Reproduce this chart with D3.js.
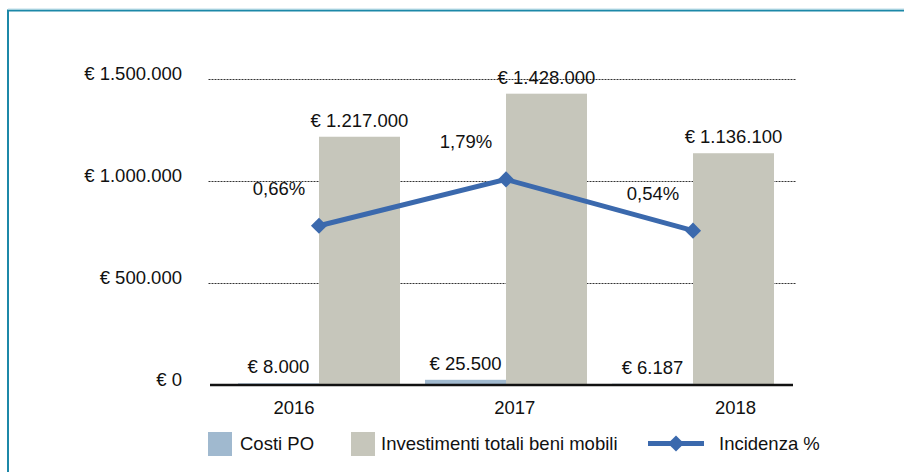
<!DOCTYPE html>
<html>
<head>
<meta charset="utf-8">
<script src="https://cdn.jsdelivr.net/npm/d3@7"></script>
<style>
  html, body { margin: 0; padding: 0; background: #fff; }
  svg { display: block; font-family: "Liberation Sans", Arial, Helvetica, sans-serif; }
</style>
</head>
<body>
<svg id="chart" width="904" height="472"></svg>
<script>
// Anni e serie
const years = ["2016", "2017", "2018"];
const costiPO = [8000, 25500, 6187];
const investimenti = [1217000, 1428000, 1136100];
const incidenza = [0.66, 1.79, 0.54];
const yTicks = [0, 500000, 1000000, 1500000];
const seriesNames = ["Costi PO", "Investimenti totali beni mobili", "Incidenza %"];

const colors = { costi: "#a0b9cf", invest: "#c6c6bb", line: "#3b69ad", frame: "#1c88a8", text: "#111" };
const fontSize = 18.5;

const svg = d3.select("#chart");

// cornice
svg.append("path")
  .attr("d", "M8,472 V10.5 H904")
  .attr("fill", "none")
  .attr("stroke", colors.frame)
  .attr("stroke-width", 2);
svg.append("line").attr("x1", 8).attr("x2", 904).attr("y1", 9).attr("y2", 9)
  .attr("stroke", "#bcdde8").attr("stroke-width", 1);

// scale
const x = d3.scaleBand().domain(years).range([225.5, 786.5])
  .paddingInner(0.1337).paddingOuter(0.0668);
const xSub = d3.scaleBand().domain(["costi", "invest"]).range([0, x.bandwidth()]).padding(0);
const y = d3.scaleLinear().domain([0, 1500000]).range([385, 79]);
const y2 = d3.scaleLinear().domain([-3.225, 4.24]).range([385, 79]);
const xLabel = d3.scalePoint().domain(years).range([293.5, 735]);

const fmtEuro = v => "€ " + d3.format(",")(v).replace(/,/g, ".");
const fmtPct = v => d3.format(".2f")(v).replace(".", ",") + "%";

// griglia punteggiata
const grid = svg.append("g");
grid.selectAll("line").data(yTicks.filter(d => d > 0)).join("line")
  .attr("x1", 208.5).attr("x2", 796)
  .attr("y1", d => Math.round(y(d)) + 0.5).attr("y2", d => Math.round(y(d)) + 0.5)
  .attr("stroke", "#333").attr("stroke-width", 1)
  .attr("stroke-dasharray", "2,1");

// etichette asse y
const yAxis = d3.axisLeft(y).tickValues(yTicks).tickFormat(fmtEuro).tickSize(0).tickPadding(0);
const gy = svg.append("g").attr("transform", "translate(182,0)").call(yAxis);
gy.select(".domain").remove();
gy.selectAll("text")
  .attr("dy", 0)
  .attr("font-size", fontSize)
  .attr("font-family", "Liberation Sans, Arial, sans-serif")
  .attr("fill", colors.text);

// barre
const rows = years.map((yr, i) => ({ year: yr, costi: costiPO[i], invest: investimenti[i], pct: incidenza[i] }));
const groups = svg.append("g").selectAll("g").data(rows).join("g")
  .attr("transform", d => `translate(${x(d.year)},0)`);

["costi", "invest"].forEach(key => {
  groups.append("rect")
    .attr("x", xSub(key))
    .attr("width", xSub.bandwidth())
    .attr("y", d => y(d[key]))
    .attr("height", d => y(0) - y(d[key]))
    .attr("fill", colors[key]);
  groups.append("text")
    .attr("x", xSub(key) + xSub.bandwidth() / 2)
    .attr("y", d => y(d[key]) - 10)
    .attr("text-anchor", "middle")
    .attr("font-size", fontSize)
    .attr("fill", colors.text)
    .text(d => fmtEuro(d[key]));
});

// asse x (linea di base)
svg.append("line")
  .attr("x1", 210).attr("x2", 793)
  .attr("y1", y(0)).attr("y2", y(0))
  .attr("stroke", "#111").attr("stroke-width", 2.5);

const xAxis = d3.axisBottom(xLabel).tickSize(0).tickPadding(0);
const gx = svg.append("g").attr("transform", "translate(0,414)").call(xAxis);
gx.select(".domain").remove();
gx.selectAll("text")
  .attr("dy", 0)
  .attr("font-size", fontSize)
  .attr("font-family", "Liberation Sans, Arial, sans-serif")
  .attr("fill", colors.text);

// linea incidenza
const cx = d => x(d.year) + x.bandwidth() / 2;
svg.append("path")
  .datum(rows)
  .attr("fill", "none")
  .attr("stroke", colors.line)
  .attr("stroke-width", 5)
  .attr("d", d3.line().x(cx).y(d => y2(d.pct)));

const diamond = d3.symbol().type(d3.symbolSquare).size(130);
svg.append("g").selectAll("path").data(rows).join("path")
  .attr("transform", d => `translate(${cx(d)},${y2(d.pct)}) rotate(45)`)
  .attr("d", diamond)
  .attr("fill", colors.line);

svg.append("g").selectAll("text").data(rows).join("text")
  .attr("x", d => cx(d) - 40)
  .attr("y", d => y2(d.pct) - 31)
  .attr("text-anchor", "middle")
  .attr("font-size", fontSize)
  .attr("fill", colors.text)
  .text(d => fmtPct(d.pct));

// legenda
const legend = svg.append("g");
legend.append("rect").attr("x", 208).attr("y", 432).attr("width", 24).attr("height", 24).attr("fill", colors.costi);
legend.append("text").attr("x", 240).attr("y", 450).attr("font-size", fontSize).attr("fill", colors.text).text(seriesNames[0]);
legend.append("rect").attr("x", 351).attr("y", 432).attr("width", 24).attr("height", 24).attr("fill", colors.invest);
legend.append("text").attr("x", 381).attr("y", 450).attr("font-size", fontSize).attr("fill", colors.text).text(seriesNames[1]);
legend.append("line").attr("x1", 648).attr("x2", 704).attr("y1", 443.5).attr("y2", 443.5)
  .attr("stroke", colors.line).attr("stroke-width", 5);
legend.append("path").attr("transform", "translate(676,443.5) rotate(45)").attr("d", diamond).attr("fill", colors.line);
legend.append("text").attr("x", 719).attr("y", 450).attr("font-size", fontSize).attr("fill", colors.text).text(seriesNames[2]);
</script>
</body>
</html>
